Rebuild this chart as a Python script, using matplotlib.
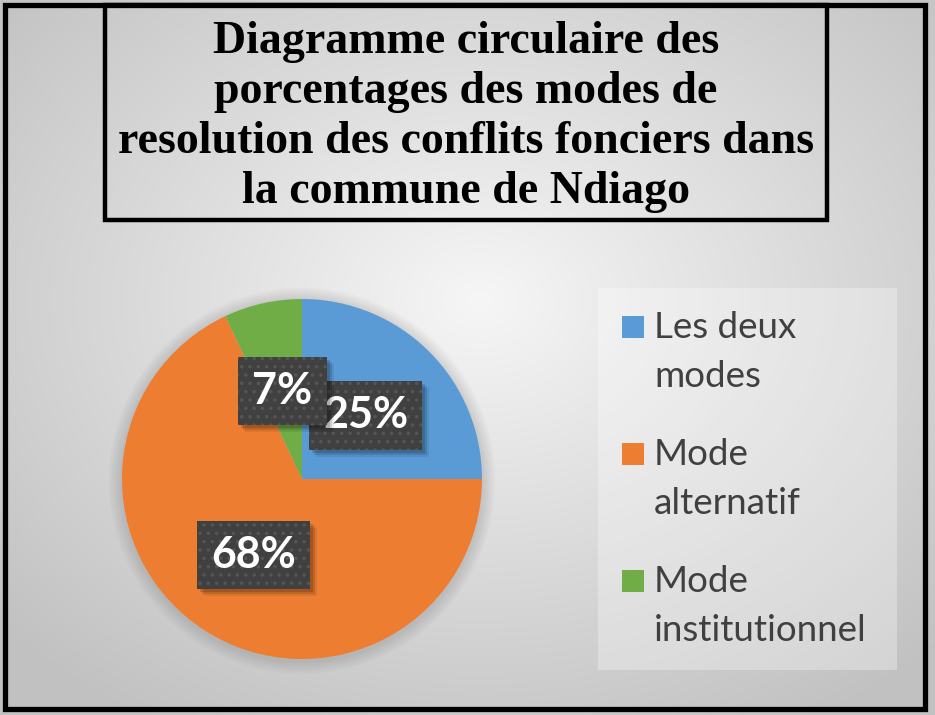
import numpy as np
import matplotlib
matplotlib.use("Agg")
import matplotlib.pyplot as plt
from matplotlib.patches import Rectangle, Circle
from matplotlib.transforms import IdentityTransform

# data
categories = ["Les deux modes", "Mode alternatif", "Mode institutionnel"]
legend_labels = ["Les deux\nmodes", "Mode\nalternatif", "Mode\ninstitutionnel"]
values = [25, 68, 7]
colors = ["#5B9BD5", "#ED7D31", "#70AD47"]
title_lines = ["Diagramme circulaire des",
               "porcentages des modes de",
               "resolution des conflits fonciers dans",
               "la commune de Ndiago"]

W, H = 935, 715
fig = plt.figure(figsize=(W / 100, H / 100), dpi=100)

# background axes in pixel coordinates
bg = fig.add_axes([0, 0, 1, 1])
bg.set_xlim(0, W)
bg.set_ylim(H, 0)
bg.axis("off")

# radial gradient background
yy, xx = np.mgrid[0:H, 0:W]
rr = np.sqrt(((xx - 480) / W) ** 2 + ((yy - 300) / H) ** 2)
shade = np.clip(0.965 - 0.30 * rr, 0.76, 1)
bg.imshow(np.dstack([shade] * 3), extent=(0, W, H, 0), zorder=0)

# outer frame and title box
bg.add_patch(Rectangle((5, 5), 920, 704, fill=False, ec="black", lw=3.8, zorder=5))
bg.add_patch(Rectangle((105, 5), 722, 215, fill=False, ec="black", lw=3.2, zorder=5))
for i, line in enumerate(title_lines):
    bg.text(466, 53 + 50 * i, line, ha="center", va="baseline",
            family="Liberation Serif", weight="bold", fontsize=33, zorder=6)

# legend drawn from categories
bg.add_patch(Rectangle((598, 288), 299, 382, fc="white", alpha=0.3, ec="none", zorder=1))
for i, lab in enumerate(legend_labels):
    y0 = 338 + 127 * i
    bg.add_patch(Rectangle((622, y0 - 22), 22, 22, fc=colors[i], ec="none", zorder=2))
    for j, part in enumerate(lab.split("\n")):
        bg.text(654, y0 + 49 * j, part, ha="left", va="baseline", color="#404040",
                family="Lato", fontsize=26.5, zorder=2)

# pie: centre (302, 479), radius 180 px
cx, cy, r = 302, 479, 180
pax = fig.add_axes([(cx - r) / W, (H - cy - r) / H, 2 * r / W, 2 * r / H])
for k in range(1, 7):
    pax.add_patch(Circle((0.0, -0.01), 1 + 0.012 * k, fc="black", alpha=0.018,
                         ec="none", clip_on=False, zorder=0))
plt.rcParams["hatch.linewidth"] = 1.3
wedges, texts, autotexts = pax.pie(values, colors=colors, startangle=90, counterclock=False,
                                   autopct="%1.0f%%", pctdistance=0.5,
                                   wedgeprops=dict(linewidth=0),
                                   textprops=dict(color="white", family="Lato",
                                                  weight="bold", fontsize=31))
for k, t in enumerate(autotexts):
    t.set_zorder(4 + 2 * k)
    t.set_bbox(dict(boxstyle="square,pad=0.33", fc="#404040", ec="#555555", lw=0, hatch=".."))
pax.set_xlim(-1, 1)
pax.set_ylim(-1, 1)
pax.set_aspect("equal")
pax.axis("off")

# soft shadows under the label boxes, placed from the drawn boxes
fig.canvas.draw()
for k, t in enumerate(autotexts):
    ext = t.get_bbox_patch().get_window_extent()
    for s, a in [(7, 0.08), (5, 0.12), (3, 0.15)]:
        pax.add_patch(Rectangle((ext.x0 + s, ext.y0 - s), ext.width, ext.height,
                                transform=IdentityTransform(), fc="black", ec="none",
                                alpha=a, zorder=3 + 2 * k, clip_on=False))
pax.set_xlim(-1, 1)
pax.set_ylim(-1, 1)

fig.savefig("out.png", dpi=100)
